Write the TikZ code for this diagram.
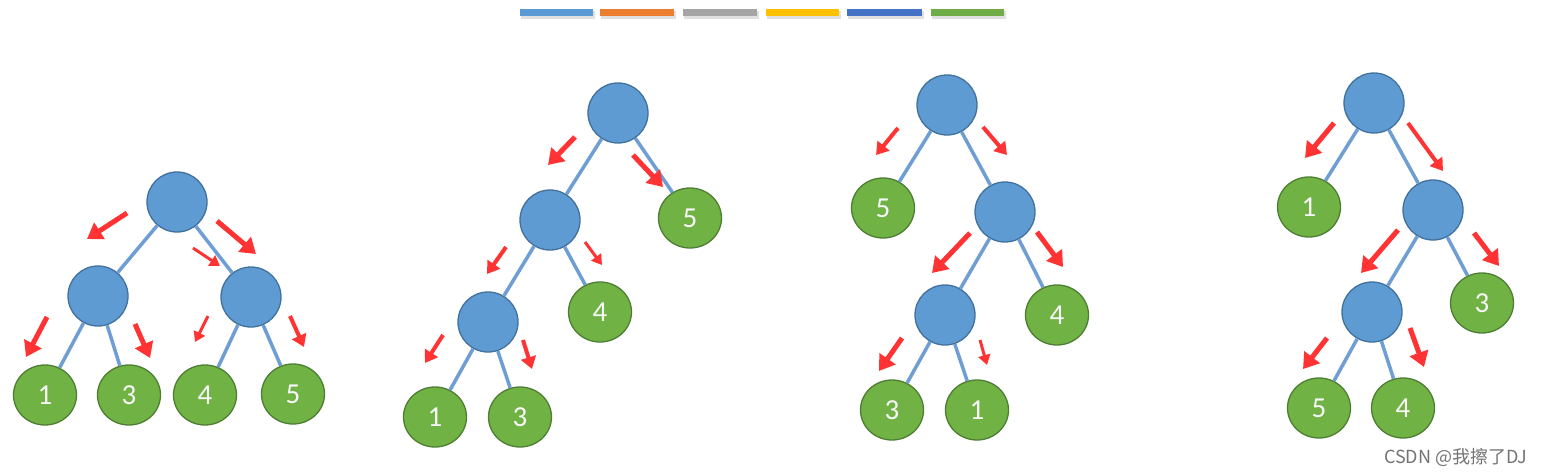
\documentclass[tikz,border=0pt]{standalone}
\usepackage{fontspec}
\setmainfont{Carlito}
\newfontfamily\cjkfont{Noto Sans CJK SC}
\usetikzlibrary{arrows.meta, shapes.geometric}
\definecolor{nodeblue}{HTML}{5F9BD3}
\definecolor{nodeedge}{HTML}{41719C}
\definecolor{leafgreen}{HTML}{70B244}
\definecolor{leafedge}{HTML}{4E7E33}
\definecolor{edgeblue}{HTML}{6E9ED3}
\definecolor{hintred}{HTML}{FF3333}
\definecolor{barblue}{HTML}{5B9BD5}
\definecolor{barorange}{HTML}{ED7D31}
\definecolor{bargray}{HTML}{A5A5A5}
\definecolor{baryellow}{HTML}{FFC000}
\definecolor{bardarkblue}{HTML}{4472C4}
\definecolor{bargreen}{HTML}{70AD47}

\begin{document}
\begin{tikzpicture}[
    x=1pt, y=-1pt,
    inner/.style={circle, draw=nodeedge, fill=nodeblue, line width=1.3pt,
        minimum size=60pt, inner sep=0pt},
    leaf/.style={ellipse, draw=leafedge, fill=leafgreen, line width=1.3pt,
        minimum width=63pt, minimum height=60pt, inner sep=0pt,
        text=white!94!gray, font=\fontsize{29}{31}\selectfont},
    branch/.style={draw=edgeblue, line width=3.5pt},
    hint/.style={draw=hintred, line width=5pt, -{Triangle[width=19pt,length=15pt]}},
    hintmid/.style={draw=hintred, line width=4pt, -{Triangle[width=15pt,length=12pt]}},
    hintsmall/.style={draw=hintred, line width=3pt, -{Triangle[width=12pt,length=10pt]}},
]
\useasboundingbox (0,0) rectangle (1544,476);
\fill[white] (0,0) rectangle (1544,476);

% Colour bars
\fill[black!12] (521,11) rectangle (595,19);
\fill[barblue] (520,9) rectangle (593,16);
\fill[black!12] (601,11) rectangle (676,19);
\fill[barorange] (600,9) rectangle (674,16);
\fill[black!12] (684,11) rectangle (759,19);
\fill[bargray] (683,9) rectangle (757,16);
\fill[black!12] (767,11) rectangle (841,19);
\fill[baryellow] (766,9) rectangle (839,16);
\fill[black!12] (848,11) rectangle (924,19);
\fill[bardarkblue] (847,9) rectangle (922,16);
\fill[black!12] (932,11) rectangle (1006,19);
\fill[bargreen] (931,9) rectangle (1004,16);

% Tree 1
\node[inner] (aR) at (177,202) {};
\node[inner] (aL) at (98,296) {};
\node[inner] (aM) at (251,297) {};
\node[leaf] (a1) at (45,395) {1};
\node[leaf] (a3) at (129,395) {3};
\node[leaf] (a4) at (205,395) {4};
\node[leaf] (a5) at (293,394) {5};
\draw[branch] (aR) -- (aL);
\draw[branch] (aR) -- (aM);
\draw[branch] (aL) -- (a1);
\draw[branch] (aL) -- (a3);
\draw[branch] (aM) -- (a4);
\draw[branch] (aM) -- (a5);
\draw[hint] (127,213) -- (87,239);
\draw[hint] (217,221) -- (256,254);
\draw[hintsmall] (193,248) -- (220,266);
\draw[hint] (47,317) -- (26,357);
\draw[hint] (135,324) -- (150,358);
\draw[hintsmall] (208,316) -- (195,342);
\draw[hintmid] (290,316) -- (304,347);

% Tree 2
\node[inner] (bR) at (618,113) {};
\node[inner] (bA) at (550,220) {};
\node[leaf] (b5) at (690,218) {5};
\node[inner] (bB) at (488,322) {};
\node[leaf] (b4) at (600,312) {4};
\node[leaf] (b1) at (435,417) {1};
\node[leaf] (b3) at (520,417) {3};
\draw[branch] (bR) -- (bA);
\draw[branch] (bR) -- (b5);
\draw[branch] (bA) -- (bB);
\draw[branch] (bA) -- (b4);
\draw[branch] (bB) -- (b1);
\draw[branch] (bB) -- (b3);
\draw[hint] (575,137) -- (548,165);
\draw[hint] (633,155) -- (663,187);
\draw[hintmid] (506,247) -- (487,274);
\draw[hintsmall] (585,242) -- (602,265);
\draw[hintmid] (443,335) -- (425,363);
\draw[hintmid] (523,340) -- (532,369);

% Tree 3
\node[inner] (cR) at (947,105) {};
\node[leaf] (c5) at (883,208) {5};
\node[inner] (cA) at (1005,212) {};
\node[inner] (cB) at (945,315) {};
\node[leaf] (c4) at (1057,315) {4};
\node[leaf] (c3) at (892,410) {3};
\node[leaf] (c1) at (977,410) {1};
\draw[branch] (cR) -- (c5);
\draw[branch] (cR) -- (cA);
\draw[branch] (cA) -- (cB);
\draw[branch] (cA) -- (c4);
\draw[branch] (cB) -- (c3);
\draw[branch] (cB) -- (c1);
\draw[hintmid] (898,128) -- (876,155);
\draw[hintmid] (983,127) -- (1007,155);
\draw[hint] (970,233) -- (932,273);
\draw[hint] (1037,232) -- (1063,267);
\draw[hint] (902,338) -- (879,371);
\draw[hintsmall] (980,340) -- (987,365);

% Tree 4
\node[inner] (dR) at (1374,103) {};
\node[leaf] (d1) at (1309,207) {1};
\node[inner] (dA) at (1433,210) {};
\node[inner] (dB) at (1372,312) {};
\node[leaf] (d3) at (1482,303) {3};
\node[leaf] (d5) at (1319,408) {5};
\node[leaf] (d4) at (1403,408) {4};
\draw[branch] (dR) -- (d1);
\draw[branch] (dR) -- (dA);
\draw[branch] (dA) -- (dB);
\draw[branch] (dA) -- (d3);
\draw[branch] (dB) -- (d5);
\draw[branch] (dB) -- (d4);
\draw[hint] (1334,123) -- (1305,158);
\draw[hintmid] (1408,123) -- (1443,171);
\draw[hint] (1398,230) -- (1361,273);
\draw[hint] (1474,233) -- (1499,266);
\draw[hint] (1327,338) -- (1303,369);
\draw[hint] (1410,328) -- (1424,367);

% Watermark
\node[text=black!55, font=\cjkfont\fontsize{18}{20}\selectfont, anchor=east] (mark) at (1531,457) {CSDN @我擦了DJ};
\end{tikzpicture}
\end{document}
